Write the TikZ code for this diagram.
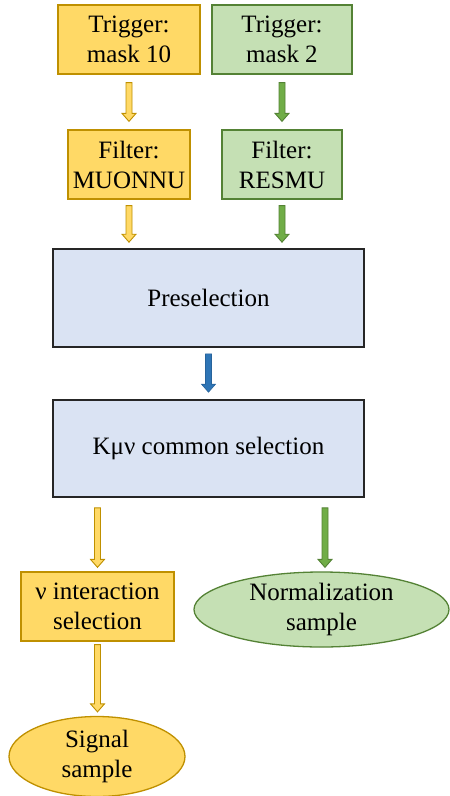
\documentclass[tikz,border=0pt]{standalone}
\usepackage{fontspec}
\setmainfont{Liberation Serif}
\usetikzlibrary{calc,shapes.geometric}
\definecolor{yfill}{HTML}{FFD966}
\definecolor{yline}{HTML}{BF9000}
\definecolor{gfill}{HTML}{C5E0B4}
\definecolor{gline}{HTML}{548235}
\definecolor{garrow}{HTML}{70AD47}
\definecolor{bfill}{HTML}{DAE3F3}
\definecolor{barrow}{HTML}{2E75B6}
\tikzset{
  base/.style={inner sep=0pt, align=center, font=\fontsize{25}{30}\selectfont},
  ybox/.style={base, draw=yline, fill=yfill, line width=1.3pt},
  gbox/.style={base, draw=gline, fill=gfill, line width=1.3pt},
  bbox/.style={base, draw=black!85, fill=bfill, line width=1.6pt},
  yarr/.style={draw=yline, fill=yfill, line width=0.9pt, line join=miter},
  garr/.style={draw=gline, fill=garrow, line width=0.9pt, line join=miter},
  barr/.style={draw=barrow!85!black, fill=barrow, line width=0.6pt, line join=miter},
}
% block arrow: #1 style, #2 start point, #3 end point (vertical, downward)
\newcommand\blockarr[3]{%
  \path[#1] let \p1=#2, \p2=#3 in
    (\x1-3pt,\y1) -- (\x1+3pt,\y1) -- (\x1+3pt,\y2+8pt) -- (\x1+7pt,\y2+8pt)
    -- (\x1,\y2) -- (\x1-7pt,\y2+8pt) -- (\x1-3pt,\y2+8pt) -- cycle;}
\begin{document}
\begin{tikzpicture}[x=1pt,y=-1pt]
\useasboundingbox (0,0) rectangle (450,796);
\node[ybox, minimum width=142, minimum height=69] (t1) at (129,39.5) {Trigger:\\mask 10};
\node[gbox, minimum width=140, minimum height=69] (t2) at (282,39.5) {Trigger:\\mask 2};
\node[ybox, minimum width=122, minimum height=69] (f1) at (129,164.5) {Filter:\\MUONNU};
\node[gbox, minimum width=120, minimum height=69] (f2) at (282,164.5) {Filter:\\RESMU};
\node[bbox, minimum width=311, minimum height=98] (pre) at (208.5,298) {Preselection};
\node[bbox, minimum width=311, minimum height=97] (kmn) at (208.5,448.5) {Kμν common selection};
\node[ybox, minimum width=153, minimum height=69] (nu) at (97.5,606.5) {ν interaction\\selection};
\node[gbox, ellipse, minimum width=255, minimum height=75] (norm) at (321.5,609.5) {Normalization\\sample};
\node[ybox, ellipse, minimum width=176, minimum height=80] (sig) at (97,756.5) {Signal\\sample};

\blockarr{yarr}{($(t1.south)+(0,8)$)}{($(f1.north)+(0,-8)$)}
\blockarr{garr}{($(t2.south)+(0,8)$)}{($(f2.north)+(0,-8)$)}
\blockarr{yarr}{($(f1.south)+(0,6)$)}{($(f1.south |- pre.north)+(0,-6)$)}
\blockarr{garr}{($(f2.south)+(0,6)$)}{($(f2.south |- pre.north)+(0,-6)$)}
\blockarr{barr}{($(pre.south)+(0,6)$)}{($(kmn.north)+(0,-7)$)}
\blockarr{yarr}{($(kmn.south -| nu.north)+(0,10)$)}{($(nu.north)+(0,-4)$)}
\blockarr{garr}{($(kmn.south -| norm.north)+(3.5,10)$)}{($(norm.north)+(3.5,-4)$)}
\blockarr{yarr}{($(nu.south)+(0,3)$)}{($(sig.north)+(0,-4)$)}
\end{tikzpicture}
\end{document}
